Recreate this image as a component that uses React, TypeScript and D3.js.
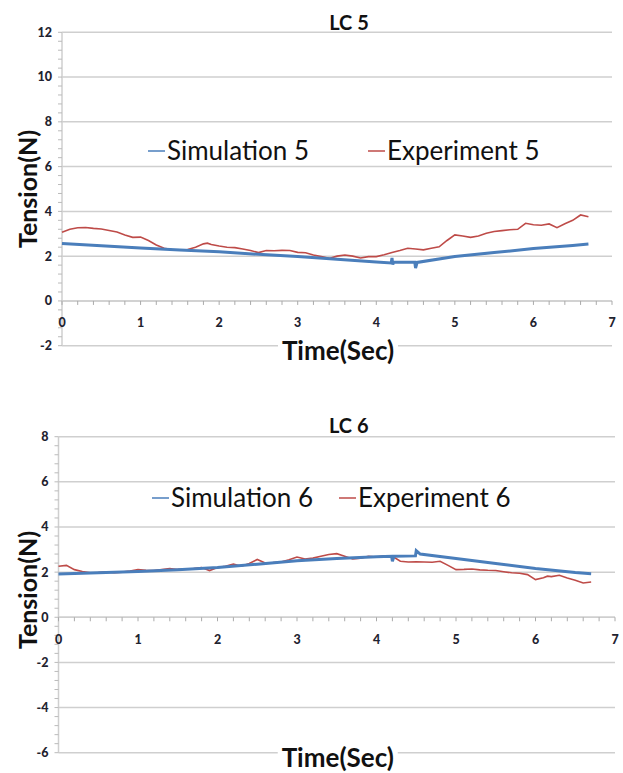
import React from "react";
import { scaleLinear, line, range } from "d3";

// LC 5
const simTime5 = [0, 0.5, 1, 1.5, 2, 2.5, 3, 3.5, 4, 4.19, 4.2, 4.21, 4.22, 4.49, 4.5, 4.52, 5, 5.5, 6, 6.5, 6.7];
const simValue5 = [2.57, 2.46, 2.36, 2.28, 2.2, 2.08, 1.98, 1.86, 1.74, 1.7, 1.92, 1.62, 1.74, 1.73, 1.47, 1.72, 1.98, 2.16, 2.34, 2.48, 2.54];

const expTime5 = [
  0, 0.1, 0.2, 0.3, 0.4, 0.5, 0.6, 0.7, 0.8, 0.9, 1.0, 1.1, 1.2, 1.3, 1.4, 1.5, 1.6, 1.7, 1.8, 1.85, 1.9, 2.0,
  2.1, 2.2, 2.3, 2.4, 2.5, 2.6, 2.7, 2.8, 2.9, 3.0, 3.1, 3.2, 3.3, 3.4, 3.5, 3.6, 3.7, 3.8, 3.9, 4.0, 4.1,
  4.2, 4.3, 4.4, 4.5, 4.6, 4.7, 4.8, 4.9, 5.0, 5.1, 5.2, 5.3, 5.4, 5.5, 5.6, 5.7, 5.8, 5.9, 6.0, 6.1, 6.2,
  6.3, 6.4, 6.5, 6.6, 6.7,
];
const expValue5 = [
  3.07, 3.2, 3.27, 3.28, 3.24, 3.21, 3.15, 3.08, 2.95, 2.84, 2.85, 2.7, 2.5, 2.35, 2.3, 2.28, 2.3, 2.4, 2.55, 2.58, 2.52, 2.45,
  2.4, 2.38, 2.32, 2.25, 2.16, 2.25, 2.24, 2.26, 2.25, 2.17, 2.15, 2.05, 1.98, 1.9, 2.0, 2.05, 2.0, 1.92, 1.98, 1.98, 2.06,
  2.16, 2.25, 2.35, 2.32, 2.28, 2.35, 2.42, 2.7, 2.95, 2.9, 2.84, 2.9, 3.02, 3.1, 3.14, 3.18, 3.2, 3.47, 3.4, 3.38, 3.44,
  3.27, 3.45, 3.6, 3.84, 3.76,
];

// LC 6
const simTime6 = [0, 0.5, 1, 1.5, 2, 2.5, 3, 3.5, 4, 4.19, 4.2, 4.22, 4.49, 4.5, 4.55, 5, 5.5, 6, 6.5, 6.7];
const simValue6 = [1.92, 1.97, 2.03, 2.1, 2.2, 2.35, 2.5, 2.6, 2.68, 2.7, 2.48, 2.7, 2.72, 2.95, 2.8, 2.6, 2.38, 2.16, 1.98, 1.93];

const expTime6 = [
  0, 0.1, 0.2, 0.3, 0.4, 0.5, 0.6, 0.7, 0.8, 0.9, 1.0, 1.1, 1.2, 1.3, 1.4, 1.5, 1.6, 1.7, 1.8, 1.9, 2.0, 2.1,
  2.2, 2.3, 2.4, 2.5, 2.6, 2.7, 2.8, 2.9, 3.0, 3.1, 3.2, 3.3, 3.4, 3.5, 3.6, 3.7, 3.8, 3.9, 4.0, 4.1, 4.2,
  4.3, 4.4, 4.5, 4.6, 4.7, 4.8, 4.9, 5.0, 5.1, 5.2, 5.3, 5.4, 5.5, 5.6, 5.7, 5.8, 5.9, 6.0, 6.1, 6.15, 6.2,
  6.3, 6.4, 6.5, 6.6, 6.7,
];
const expValue6 = [
  2.26, 2.3, 2.11, 2.03, 1.97, 1.98, 2.01, 1.97, 2.0, 2.05, 2.11, 2.08, 2.07, 2.12, 2.16, 2.12, 2.14, 2.16, 2.2, 2.07, 2.2, 2.26,
  2.36, 2.26, 2.38, 2.56, 2.41, 2.42, 2.45, 2.55, 2.67, 2.58, 2.62, 2.7, 2.78, 2.82, 2.7, 2.58, 2.62, 2.7, 2.67, 2.72, 2.7,
  2.48, 2.45, 2.46, 2.45, 2.44, 2.48, 2.3, 2.11, 2.12, 2.14, 2.1, 2.08, 2.07, 2.02, 1.97, 1.95, 1.89, 1.67, 1.75, 1.82, 1.8,
  1.86, 1.74, 1.64, 1.52, 1.56,
];

const xTicks = [0, 1, 2, 3, 4, 5, 6, 7];
const yTicks5 = [-2, 0, 2, 4, 6, 8, 10, 12];
const yTicks6 = [-6, -4, -2, 0, 2, 4, 6, 8];

const BLUE = "#4a7ebb";
const RED = "#be4b48";
const GRID = "#cfcfcf";
const FONT = "Lato, 'Open Sans', sans-serif";

type ChartProps = {
  title: string;
  titleY: number;
  x0: number;
  x1: number;
  yTop: number;
  yBottom: number;
  yTicks: number[];
  sim: { t: number[]; v: number[]; name: string };
  exp: { t: number[]; v: number[]; name: string };
  legend: { y: number; simX: number; expX: number };
  xTitleY: number;
  yTitleCenter: number;
};

const Chart = ({ title, titleY, x0, x1, yTop, yBottom, yTicks, sim, exp, legend, xTitleY, yTitleCenter }: ChartProps) => {
  const x = scaleLinear().domain([0, 7]).range([x0, x1]);
  const yMin = yTicks[0];
  const yMax = yTicks[yTicks.length - 1];
  const y = scaleLinear().domain([yMin, yMax]).range([yBottom, yTop]);

  const path = line<[number, number]>()
    .x((d) => x(d[0]))
    .y((d) => y(d[1]));

  const simPts = sim.t.map((t, i) => [t, sim.v[i]] as [number, number]);
  const expPts = exp.t.map((t, i) => [t, exp.v[i]] as [number, number]);

  const xMinor = range(0, 7.001, 0.2);
  const yMinor = range(yMin, yMax + 0.001, 0.4);
  const xMid = (x0 + x1) / 2;

  return (
    <g>
      {/* gridlines */}
      {yTicks.map((t) => (
        <line key={"g" + t} x1={x0} x2={x1} y1={y(t)} y2={y(t)} stroke={GRID} strokeWidth={1.5} />
      ))}
      {/* y axis */}
      <line x1={x0} x2={x0} y1={yTop} y2={yBottom} stroke={GRID} strokeWidth={1.5} />
      {yMinor.map((t, i) => (
        <line key={"ym" + i} x1={x0 - 4} x2={x0} y1={y(t)} y2={y(t)} stroke="#bbb" strokeWidth={1} />
      ))}
      {yTicks.map((t) => (
        <text key={"yl" + t} x={x0 - 10} y={y(t)} dy="0.35em" textAnchor="end" fontFamily={FONT}
          fontWeight="900" fontSize={12.5} fill="#1f2330">
          {t}
        </text>
      ))}
      {/* x axis at zero */}
      <line x1={x0} x2={x1} y1={y(0)} y2={y(0)} stroke={GRID} strokeWidth={1.5} />
      {xMinor.map((t, i) => (
        <line key={"xm" + i} x1={x(t)} x2={x(t)} y1={y(0)} y2={y(0) + 4} stroke="#aaa" strokeWidth={1} />
      ))}
      {xTicks.map((t) => (
        <text key={"xl" + t} x={x(t)} y={y(0) + 22} dy="0.35em" textAnchor="middle" fontFamily={FONT}
          fontWeight="900" fontSize={12.5} fill="#1f2330">
          {t}
        </text>
      ))}

      {/* series */}
      <path d={path(expPts) ?? ""} fill="none" stroke={RED} strokeWidth={1.6} />
      <path d={path(simPts) ?? ""} fill="none" stroke={BLUE} strokeWidth={3} />

      {/* title */}
      <text x={xMid + 12} y={titleY} textAnchor="middle" fontFamily={FONT} fontWeight="bold" fontSize={20} fill="#111">
        {title}
      </text>

      {/* legend */}
      <line x1={legend.simX} x2={legend.simX + 17} y1={legend.y} y2={legend.y} stroke={BLUE} strokeWidth={1.5} />
      <text x={legend.simX + 19} y={legend.y} dy="0.35em" fontFamily={FONT} fontSize={26} fill="#111">
        {sim.name}
      </text>
      <line x1={legend.expX} x2={legend.expX + 17} y1={legend.y} y2={legend.y} stroke={RED} strokeWidth={1.5} />
      <text x={legend.expX + 19} y={legend.y} dy="0.35em" fontFamily={FONT} fontSize={26} fill="#111">
        {exp.name}
      </text>

      {/* axis titles */}
      <rect x={xMid + 1 - 60} y={xTitleY - 18} width={120} height={24} fill="#fff" />
      <text x={xMid + 1} y={xTitleY} textAnchor="middle" fontFamily={FONT} fontWeight="bold" fontSize={26} fill="#111">
        Time(Sec)
      </text>
      <text transform={`translate(37,${yTitleCenter}) rotate(-90)`} textAnchor="middle" fontFamily={FONT}
        fontWeight="bold" fontSize={25} fill="#111">
        Tension(N)
      </text>
    </g>
  );
};

export default function App() {
  return (
    <svg width={623} height={773} style={{ position: "absolute", left: 0, top: 0, background: "#fff" }}>
      <Chart
        title="LC 5"
        titleY={30}
        x0={62}
        x1={612}
        yTop={32.3}
        yBottom={345.7}
        yTicks={yTicks5}
        sim={{ t: simTime5, v: simValue5, name: "Simulation 5" }}
        exp={{ t: expTime5, v: expValue5, name: "Experiment 5" }}
        legend={{ y: 151, simX: 148, expX: 368 }}
        xTitleY={360}
        yTitleCenter={189}
      />
      <Chart
        title="LC 6"
        titleY={433}
        x0={58.5}
        x1={615}
        yTop={436.7}
        yBottom={752.7}
        yTicks={yTicks6}
        sim={{ t: simTime6, v: simValue6, name: "Simulation 6" }}
        exp={{ t: expTime6, v: expValue6, name: "Experiment 6" }}
        legend={{ y: 498, simX: 152, expX: 339 }}
        xTitleY={767}
        yTitleCenter={590}
      />
    </svg>
  );
}
